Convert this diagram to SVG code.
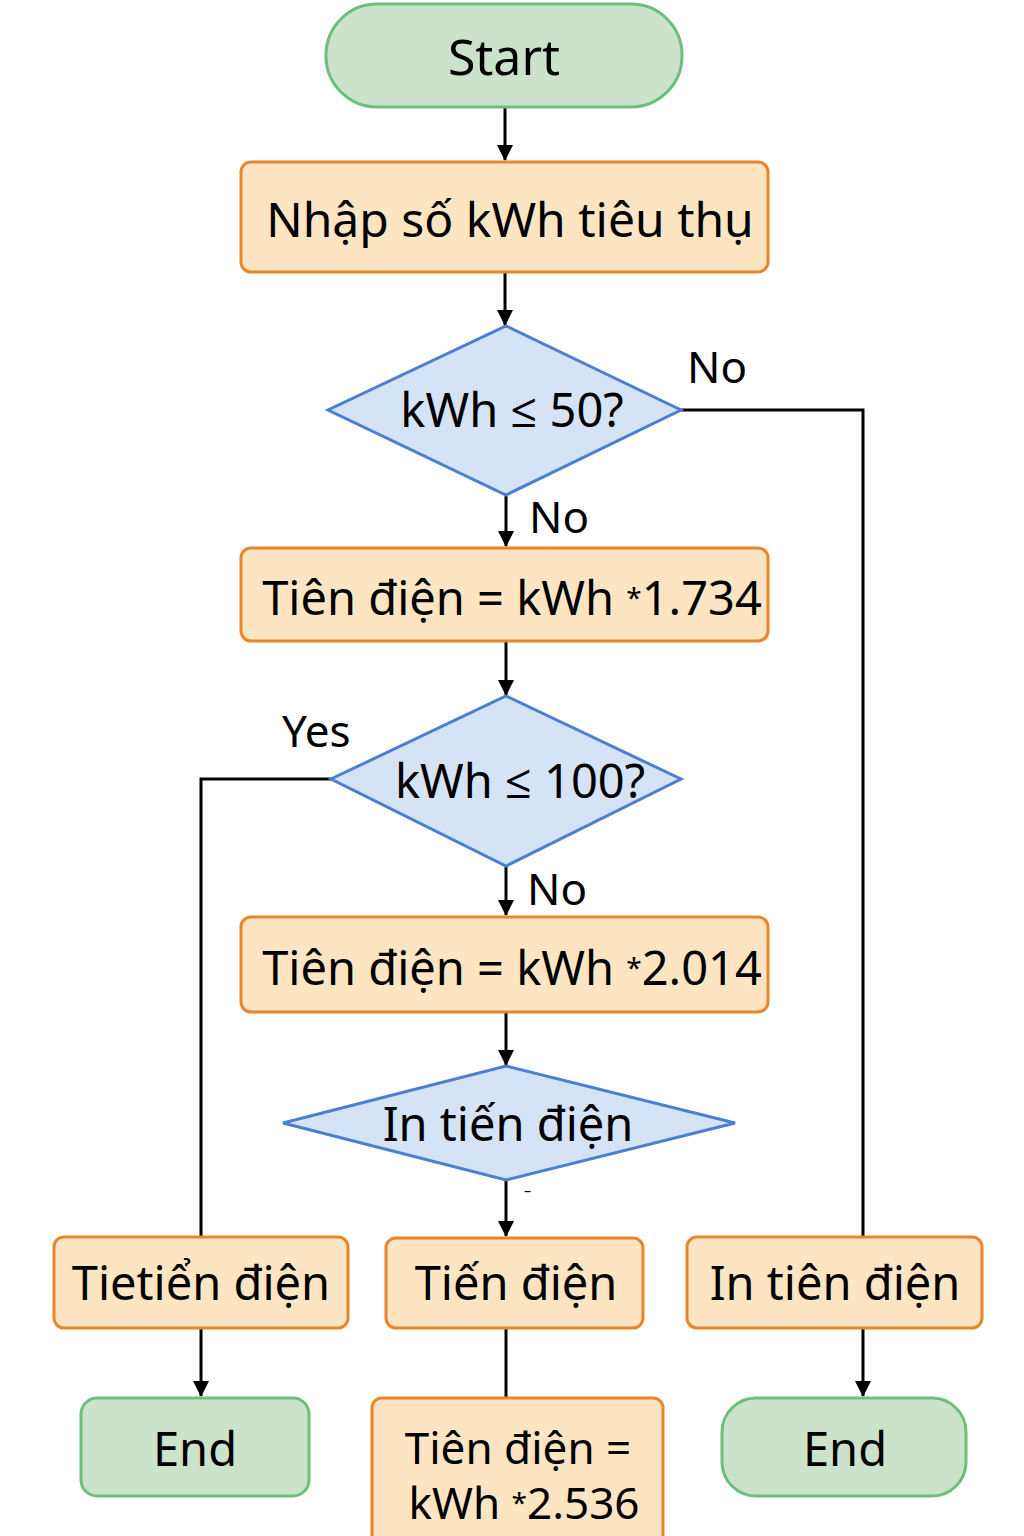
<svg xmlns="http://www.w3.org/2000/svg" width="1024" height="1536" viewBox="0 0 1024 1536">
<defs>
<marker id="ah" markerWidth="16" markerHeight="16" refX="15" refY="8" orient="auto" markerUnits="userSpaceOnUse">
<path d="M0,0 L16,8 L0,16 Z" fill="#000"/>
</marker>
<style>
.term{fill:#cce3cb;stroke:#6cbf7a;stroke-width:3}
.proc{fill:#fde5c3;stroke:#e8862a;stroke-width:3}
.dec{fill:#d5e3f7;stroke:#4a7fd1;stroke-width:3}
.t{font-family:"Noto Sans","Open Sans","DejaVu Sans",sans-serif;font-size:47px;fill:#000;text-anchor:middle;dominant-baseline:central}
.lbl{font-family:"Noto Sans","Open Sans","DejaVu Sans",sans-serif;font-size:44px;fill:#000}
.ast{font-size:28px}
.c{fill:none;stroke:#000;stroke-width:3}
</style>
</defs>
<rect width="1024" height="1536" fill="#fff"/>
<g id="connectors">
<line class="c" x1="505" y1="108" x2="505" y2="160" marker-end="url(#ah)"/>
<line class="c" x1="505" y1="272" x2="505" y2="325" marker-end="url(#ah)"/>
<line class="c" x1="506" y1="495" x2="506" y2="546" marker-end="url(#ah)"/>
<polyline class="c" points="681,410 863,410 863,1237"/>
<line class="c" x1="506" y1="641" x2="506" y2="695" marker-end="url(#ah)"/>
<polyline class="c" points="331,779 201,779 201,1237"/>
<line class="c" x1="506" y1="866" x2="506" y2="915" marker-end="url(#ah)"/>
<line class="c" x1="506" y1="1012" x2="506" y2="1065" marker-end="url(#ah)"/>
<line class="c" x1="506" y1="1180" x2="506" y2="1236" marker-end="url(#ah)"/>
<line class="c" x1="201" y1="1328" x2="201" y2="1396" marker-end="url(#ah)"/>
<line class="c" x1="506" y1="1328" x2="506" y2="1398"/>
<line class="c" x1="863" y1="1328" x2="863" y2="1396" marker-end="url(#ah)"/>
<text class="lbl" x="687" y="383">No</text>
<text class="lbl" x="529" y="533">No</text>
<text class="lbl" x="282" y="747">Yes</text>
<text class="lbl" x="527" y="905">No</text>
<text class="lbl" x="524" y="1196" style="font-size:14px">–</text>
</g>
<g id="start">
<rect class="term" x="326" y="4" width="356" height="103" rx="51"/>
<text class="t" x="504" y="56" style="font-size:50px">Start</text>
</g>
<g id="input">
<rect class="proc" x="241" y="162" width="527" height="110" rx="10"/>
<text class="t" x="510" y="218" style="font-size:48px">Nhập số kWh tiêu thụ</text>
</g>
<g id="dec1">
<polygon class="dec" points="506,326 681,410 506,495 328,410"/>
<text class="t" x="512" y="409">kWh ≤ 50?</text>
</g>
<g id="calc1">
<rect class="proc" x="241" y="548" width="527" height="93" rx="10"/>
<text class="t" x="512" y="597">Tiên điện = kWh <tspan class="ast">*</tspan>1.734</text>
</g>
<g id="dec2">
<polygon class="dec" points="506,696 681,779 506,866 331,779"/>
<text class="t" x="520" y="780">kWh ≤ 100?</text>
</g>
<g id="calc2">
<rect class="proc" x="241" y="917" width="527" height="95" rx="10"/>
<text class="t" x="512" y="967">Tiên điện = kWh <tspan class="ast">*</tspan>2.014</text>
</g>
<g id="dec3">
<polygon class="dec" points="506,1066 735,1123 506,1180 283,1123"/>
<text class="t" x="508" y="1123">In tiến điện</text>
</g>
<g id="outLeft">
<rect class="proc" x="54" y="1237" width="294" height="91" rx="10"/>
<text class="t" x="201" y="1282">Tietiển điện</text>
</g>
<g id="outMid">
<rect class="proc" x="386" y="1238" width="257" height="90" rx="10"/>
<text class="t" x="516" y="1282">Tiến điện</text>
</g>
<g id="outRight">
<rect class="proc" x="687" y="1237" width="295" height="91" rx="10"/>
<text class="t" x="835" y="1282">In tiên điện</text>
</g>
<g id="endLeft">
<rect class="term" x="81" y="1398" width="228" height="98" rx="16"/>
<text class="t" x="195" y="1448">End</text>
</g>
<g id="calc3">
<rect class="proc" x="372" y="1398" width="291" height="150" rx="10"/>
<text class="t" x="518" y="1447" style="font-size:44px">Tiên điện =</text>
<text class="t" x="524" y="1502" style="font-size:44px">kWh <tspan class="ast">*</tspan>2.536</text>
</g>
<g id="endRight">
<rect class="term" x="722" y="1398" width="244" height="98" rx="34"/>
<text class="t" x="845" y="1448">End</text>
</g>
</svg>
